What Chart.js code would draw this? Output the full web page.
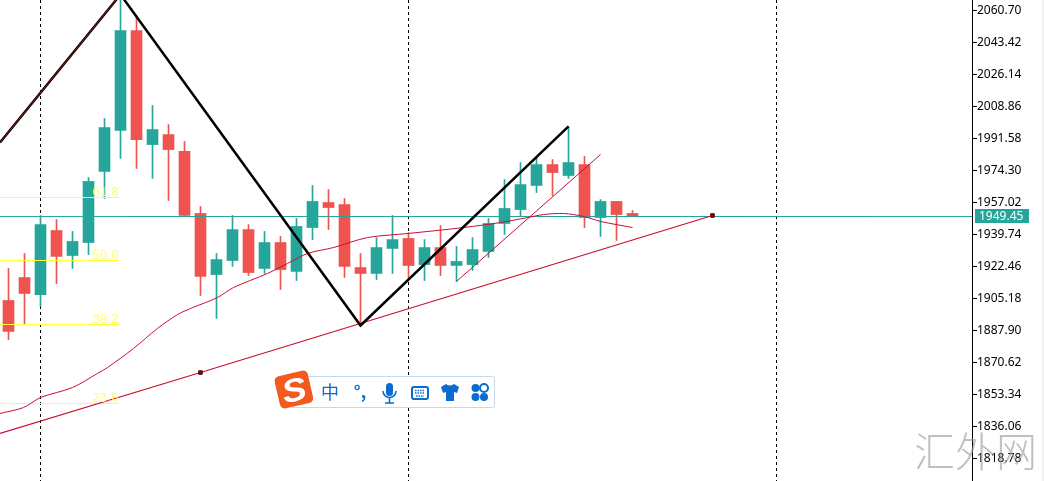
<!DOCTYPE html>
<html>
<head>
<meta charset="utf-8">
<script src="https://cdn.jsdelivr.net/npm/chart.js@4/dist/chart.umd.min.js"></script>
<style>
  html, body { margin: 0; padding: 0; background: #fff; overflow: hidden; }
  #wrap { position: relative; width: 1044px; height: 481px; }
  canvas { display: block; }
  #ime { position: absolute; left: 0; top: 0; }
  #mark {
    position: absolute; left: 914px; top: 423px; color: rgba(150,150,150,0.6);
    font: 300 41px "Noto Sans CJK SC", sans-serif; line-height: 52px; white-space: nowrap;
  }
  #edge { position: absolute; left: 1042px; top: 0; width: 2px; height: 481px; background: #f0f0f0; }
</style>
</head>
<body>
<div id="wrap">
  <canvas id="chart" width="1044" height="481"></canvas>
  <svg id="ime" width="1044" height="481" font-family="'Noto Sans CJK SC', sans-serif">
    <rect x="290.5" y="376.5" width="204" height="31" rx="2" fill="#fff" stroke="#c9d8e8"/>
    <g transform="rotate(-13 294 390)">
      <rect x="277" y="373" width="34" height="33" rx="5" fill="#f25a1e"/>
      <text x="294" y="401" font-size="32" font-weight="900" font-style="italic" fill="#fff" text-anchor="middle" font-family="'Liberation Sans', sans-serif" transform="translate(294 0) scale(1.15 1) translate(-294 0)">S</text>
    </g>
    <text x="330" y="399" font-size="18" fill="#0a6cd0" text-anchor="middle">中</text>
    <text x="360" y="398" font-size="17" font-weight="700" fill="#0a6cd0" text-anchor="middle">°,</text>
    <rect x="386" y="383" width="7" height="13" rx="3.5" fill="#0a6cd0"/>
    <path d="M383 391 a6.5 6.5 0 0 0 13 0 M389.5 398 v5 M385 403 h9" fill="none" stroke="#0a6cd0" stroke-width="1.6"/>
    <rect x="412" y="387" width="16" height="12" rx="2" fill="#fff" stroke="#0a6cd0" stroke-width="2"/>
    <path d="M415 390.5 h10 M415 393 h10 M416 396 h8" stroke="#0a6cd0" stroke-width="1.4" stroke-dasharray="1.5 1"/>
    <path d="M446 384 q3.5 3 8 0 l5 3 -2 6 -3 -1 v9 h-8 v-9 l-3 1 -2 -6z" fill="#0a6cd0"/>
    <circle cx="475.500" cy="388" r="4" fill="#0a6cd0"/>
    <circle cx="484" cy="388" r="4" fill="none" stroke="#0a6cd0" stroke-width="2"/>
    <circle cx="475.500" cy="397" r="4" fill="#0a6cd0"/>
    <circle cx="484" cy="397" r="4" fill="#0a6cd0"/>
  </svg>
  <div id="mark">汇外网</div>
  <div id="edge"></div>
</div>
<script>
// candles, oldest first, prices
const openPrices = [1904.1, 1916.5, 1907.3, 1941.9, 1928.4, 1935.4, 1973.8, 1995.9, 2049.9, 1988.3,
  1993.7, 1984.6, 1951.1, 1918.1, 1925.7, 1942.4, 1921.4, 1935.4, 1919.8, 1943.5,
  1957.0, 1955.9, 1921.9, 1918.7, 1932.2, 1937.6, 1923.5, 1932.7, 1923.0, 1923.5,
  1930.6, 1945.7, 1953.2, 1966.2, 1977.5, 1971.6, 1977.5, 1948.9, 1957.6, 1951.1];
const closePrices = [1887.4, 1907.9, 1945.1, 1927.9, 1936.0, 1968.4, 1997.5, 2049.9, 1991.0, 1996.4,
  1985.6, 1950.0, 1917.1, 1926.2, 1942.4, 1919.2, 1935.4, 1920.8, 1944.1, 1957.6,
  1954.3, 1922.5, 1918.7, 1932.7, 1937.0, 1923.0, 1932.7, 1923.0, 1925.2, 1931.6,
  1945.7, 1953.8, 1966.7, 1977.5, 1973.2, 1978.6, 1948.9, 1957.6, 1950.5, 1949.45];
const highPrices = [1921.4, 1929.5, 1950.0, 1947.8, 1941.4, 1970.5, 2002.4, 2070.0, 2058.0, 2009.4,
  1999.1, 1990.0, 1954.9, 1929.5, 1950.0, 1945.1, 1941.4, 1938.7, 1948.4, 1966.2,
  1964.0, 1959.2, 1929.5, 1938.1, 1950.0, 1940.8, 1937.0, 1944.6, 1933.3, 1938.1,
  1948.4, 1969.4, 1978.6, 1981.3, 1980.2, 1998.1, 1981.9, 1958.6, 1957.6, 1952.7];
const lowPrices = [1883.0, 1891.1, 1900.9, 1913.3, 1921.4, 1928.9, 1959.2, 1980.8, 1975.4, 1970.0,
  1958.1, 1949.5, 1906.8, 1894.4, 1922.5, 1917.6, 1918.7, 1910.0, 1914.9, 1937.0,
  1942.4, 1916.5, 1890.6, 1915.4, 1918.7, 1916.5, 1914.9, 1917.6, 1914.4, 1920.3,
  1927.3, 1939.7, 1949.5, 1962.4, 1960.8, 1970.0, 1943.5, 1938.7, 1936.5, 1949.45];

// moving average, x in candle index
const maIndex = [-0.53, 0.94, 2, 4, 5.56, 6.19, 7.81, 9.31, 10.56, 11.38, 13.06, 14.06, 16.19,
  17.44, 18.69, 20.31, 22.44, 25, 28.44, 30.75, 32.44, 33.44, 34.69, 35.94, 37, 39];
const maValues = [1843.1, 1846.3, 1851.7, 1857.1, 1864.7, 1867.9, 1878.2, 1889.0, 1896.5, 1899.8, 1905.7, 1911.1, 1918.7,
  1924.1, 1929.5, 1932.7, 1938.1, 1940.3, 1943.5, 1946.2, 1948.9, 1950.5, 1951.1, 1949.5, 1946.8, 1943.5];

// zigzag, trend lines
const zigzagIndex = [-0.53, 7, 22, 35];
const zigzagValues = [1989.4, 2069.3, 1890.6, 1998.1];
const trendIndex = [-0.53, 12, 44];
const trendValues = [1832.3, 1865.2, 1950.0];
const channelIndex = [28, 37];
const channelValues = [1914.4, 1982.9];

// fibonacci levels
const fibLabels = ['61.8', '50.0', '38.2', '23.6'];
const fibValues = [1959.72, 1925.70, 1891.14, 1848.48];
const fibEndIndex = 6.9;

const lastPrice = 1949.45;
const tickValues = [2060.70, 2043.42, 2026.14, 2008.86, 1991.58, 1974.30, 1957.02, 1939.74,
  1922.46, 1905.18, 1887.90, 1870.62, 1853.34, 1836.06, 1818.78];
const separatorIndex = [2, 25, 48];

const UP = '#26a69a';
const DOWN = '#ef5350';
const RED_LINE = '#c8102e';
const AXIS_FONT = 'Noto Sans';

const colors = openPrices.map((o, i) => closePrices[i] >= o ? UP : DOWN);
const toPoints = (xs, ys) => xs.map((x, i) => ({ x, y: ys[i] }));

const lineDefaults = { type: 'line', pointRadius: 0, fill: false, borderCapStyle: 'butt' };

// labels on the chart area: fib numbers and the last price box
const overlayPlugin = {
  id: 'overlay',
  afterDatasetsDraw(chart) {
    const { ctx, scales: { x, y } } = chart;
    ctx.save();
    ctx.font = '12px "DejaVu Sans"';
    ctx.fillStyle = '#ffff66';
    ctx.textAlign = 'right';
    ctx.textBaseline = 'alphabetic';
    fibLabels.forEach((label, i) => {
      ctx.fillText(label, x.getPixelForValue(fibEndIndex), y.getPixelForValue(fibValues[i]) - 2);
    });
    ctx.restore();
  },
  afterDraw(chart) {
    const { ctx, scales: { y } } = chart;
    const py = Math.floor(y.getPixelForValue(lastPrice));
    ctx.save();
    ctx.fillStyle = UP;
    ctx.fillRect(975, py - 7, 54, 14);
    ctx.fillStyle = '#fff';
    ctx.font = `12px "${AXIS_FONT}"`;
    ctx.textAlign = 'left';
    ctx.textBaseline = 'middle';
    ctx.fillText(lastPrice.toFixed(2), 979, py + 0.5);
    ctx.restore();
  }
};

new Chart(document.getElementById('chart').getContext('2d'), {
  data: {
    datasets: [
      { ...lineDefaults, order: 1, data: toPoints(zigzagIndex.slice(0, 2), zigzagValues.slice(0, 2)), borderColor: '#8b1a1a', borderWidth: 1 },
      { ...lineDefaults, order: 2, data: toPoints(zigzagIndex, zigzagValues), borderColor: '#000', borderWidth: 2.5 },
      { ...lineDefaults, order: 3, data: toPoints(trendIndex, trendValues), borderColor: RED_LINE, borderWidth: 1.2,
        pointRadius: [0, 2.5, 2.5], pointStyle: 'rect', pointBackgroundColor: '#8b0000', pointBorderColor: '#5a0000', pointBorderWidth: 1 },
      { ...lineDefaults, order: 4, data: toPoints(channelIndex, channelValues), borderColor: RED_LINE, borderWidth: 1 },
      { ...lineDefaults, order: 5, data: toPoints(maIndex, maValues), borderColor: RED_LINE, borderWidth: 1, tension: 0.3 },
      { ...lineDefaults, order: 6, data: [{ x: -0.53, y: lastPrice }, { x: 60.22, y: lastPrice }], borderColor: UP, borderWidth: 1 },
      ...fibValues.map(v => ({ ...lineDefaults, order: 7, data: [{ x: -0.53, y: v }, { x: fibEndIndex, y: v }], borderColor: '#ffff33', borderWidth: 1 })),
      { type: 'bar', order: 10, grouped: false, barThickness: 11, backgroundColor: colors, borderWidth: 0,
        data: openPrices.map((o, i) => ({ x: i, y: [o, closePrices[i]] })) },
      { type: 'bar', order: 11, grouped: false, barThickness: 1, backgroundColor: colors, borderWidth: 0,
        data: lowPrices.map((l, i) => ({ x: i, y: [l, highPrices[i]] })) }
    ]
  },
  options: {
    responsive: false,
    animation: false,
    layout: { padding: 0, autoPadding: false },
    plugins: { legend: { display: false }, tooltip: { enabled: false } },
    scales: {
      x: {
        type: 'linear',
        offset: false,
        min: -0.53125,
        max: 60.21875,
        afterBuildTicks: s => { s.ticks = separatorIndex.map(value => ({ value })); },
        ticks: { display: false },
        grid: { offset: false, color: '#000', lineWidth: 1, drawTicks: false, tickLength: 0 },
        border: { display: false, dash: [3, 3] }
      },
      y: {
        position: 'right',
        min: 1806.63,
        max: 2066.37,
        afterBuildTicks: s => { s.ticks = tickValues.map(value => ({ value })); },
        afterFit: s => { s.width = 72; s.paddingTop = 0; s.paddingBottom = 0; },
        ticks: {
          autoSkip: false,
          padding: 0,
          color: '#000',
          font: { family: AXIS_FONT, size: 12 },
          callback: v => v.toFixed(2)
        },
        grid: { drawOnChartArea: false, drawTicks: true, tickLength: 5, color: '#000' },
        border: { display: true, color: '#000', width: 1 }
      }
    }
  },
  plugins: [overlayPlugin]
});
</script>
</body>
</html>
